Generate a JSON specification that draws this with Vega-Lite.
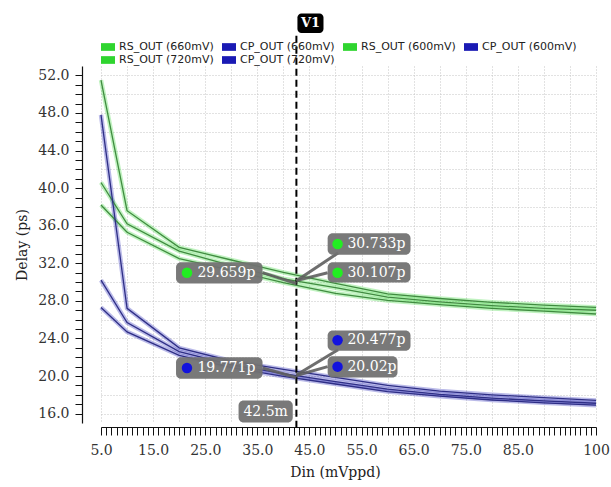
{
  "$schema": "https://vega.github.io/schema/vega-lite/v6.json",
  "width": 495,
  "height": 357,
  "autosize": {"type": "none"},
  "padding": {"left": 101, "top": 66, "right": 15, "bottom": 64},
  "background": "white",
  "config": {"view": {"stroke": null}},
  "datasets": {
    "lines": [
      {"s": "RS_OUT (600mV)", "x": 5, "y": 51.5}, {"s": "RS_OUT (600mV)", "x": 10, "y": 37.6}, {"s": "RS_OUT (600mV)", "x": 20, "y": 33.7}, {"s": "RS_OUT (600mV)", "x": 30, "y": 32.35}, {"s": "RS_OUT (600mV)", "x": 40, "y": 31.03}, {"s": "RS_OUT (600mV)", "x": 50, "y": 29.85}, {"s": "RS_OUT (600mV)", "x": 60, "y": 28.75}, {"s": "RS_OUT (600mV)", "x": 70, "y": 28.25}, {"s": "RS_OUT (600mV)", "x": 80, "y": 27.85}, {"s": "RS_OUT (600mV)", "x": 90, "y": 27.55}, {"s": "RS_OUT (600mV)", "x": 100, "y": 27.3},
      {"s": "RS_OUT (660mV)", "x": 5, "y": 40.6}, {"s": "RS_OUT (660mV)", "x": 10, "y": 36.2}, {"s": "RS_OUT (660mV)", "x": 20, "y": 33.3}, {"s": "RS_OUT (660mV)", "x": 30, "y": 31.75}, {"s": "RS_OUT (660mV)", "x": 40, "y": 30.35}, {"s": "RS_OUT (660mV)", "x": 50, "y": 29.4}, {"s": "RS_OUT (660mV)", "x": 60, "y": 28.4}, {"s": "RS_OUT (660mV)", "x": 70, "y": 27.9}, {"s": "RS_OUT (660mV)", "x": 80, "y": 27.5}, {"s": "RS_OUT (660mV)", "x": 90, "y": 27.2}, {"s": "RS_OUT (660mV)", "x": 100, "y": 27.0},
      {"s": "RS_OUT (720mV)", "x": 5, "y": 38.2}, {"s": "RS_OUT (720mV)", "x": 10, "y": 35.3}, {"s": "RS_OUT (720mV)", "x": 20, "y": 32.5}, {"s": "RS_OUT (720mV)", "x": 30, "y": 31.25}, {"s": "RS_OUT (720mV)", "x": 40, "y": 29.95}, {"s": "RS_OUT (720mV)", "x": 50, "y": 28.8}, {"s": "RS_OUT (720mV)", "x": 60, "y": 28.05}, {"s": "RS_OUT (720mV)", "x": 70, "y": 27.6}, {"s": "RS_OUT (720mV)", "x": 80, "y": 27.2}, {"s": "RS_OUT (720mV)", "x": 90, "y": 26.9}, {"s": "RS_OUT (720mV)", "x": 100, "y": 26.6},
      {"s": "CP_OUT (600mV)", "x": 5, "y": 47.8}, {"s": "CP_OUT (600mV)", "x": 10, "y": 27.2}, {"s": "CP_OUT (600mV)", "x": 20, "y": 23.0}, {"s": "CP_OUT (600mV)", "x": 30, "y": 21.6}, {"s": "CP_OUT (600mV)", "x": 40, "y": 20.7}, {"s": "CP_OUT (600mV)", "x": 50, "y": 19.85}, {"s": "CP_OUT (600mV)", "x": 60, "y": 19.0}, {"s": "CP_OUT (600mV)", "x": 70, "y": 18.4}, {"s": "CP_OUT (600mV)", "x": 80, "y": 18.0}, {"s": "CP_OUT (600mV)", "x": 90, "y": 17.7}, {"s": "CP_OUT (600mV)", "x": 100, "y": 17.4},
      {"s": "CP_OUT (660mV)", "x": 5, "y": 30.2}, {"s": "CP_OUT (660mV)", "x": 10, "y": 25.7}, {"s": "CP_OUT (660mV)", "x": 20, "y": 22.6}, {"s": "CP_OUT (660mV)", "x": 30, "y": 21.2}, {"s": "CP_OUT (660mV)", "x": 40, "y": 20.25}, {"s": "CP_OUT (660mV)", "x": 50, "y": 19.4}, {"s": "CP_OUT (660mV)", "x": 60, "y": 18.6}, {"s": "CP_OUT (660mV)", "x": 70, "y": 18.05}, {"s": "CP_OUT (660mV)", "x": 80, "y": 17.65}, {"s": "CP_OUT (660mV)", "x": 90, "y": 17.35}, {"s": "CP_OUT (660mV)", "x": 100, "y": 17.1},
      {"s": "CP_OUT (720mV)", "x": 5, "y": 27.3}, {"s": "CP_OUT (720mV)", "x": 10, "y": 24.7}, {"s": "CP_OUT (720mV)", "x": 20, "y": 22.2}, {"s": "CP_OUT (720mV)", "x": 30, "y": 20.9}, {"s": "CP_OUT (720mV)", "x": 40, "y": 19.97}, {"s": "CP_OUT (720mV)", "x": 50, "y": 19.15}, {"s": "CP_OUT (720mV)", "x": 60, "y": 18.35}, {"s": "CP_OUT (720mV)", "x": 70, "y": 17.85}, {"s": "CP_OUT (720mV)", "x": 80, "y": 17.45}, {"s": "CP_OUT (720mV)", "x": 90, "y": 17.15}, {"s": "CP_OUT (720mV)", "x": 100, "y": 16.9}
    ],
    "ann": [
      {"label": "30.733p", "fam": "RS", "x1": 48.5, "x2": 64.4, "y1": 32.9, "y2": 35.2, "cx": 50.4, "tx": 52.3, "ty": 34.05, "px": 42.5, "py": 30.15, "qx": 50.5, "qy": 33.1},
      {"label": "30.107p", "fam": "RS", "x1": 48.5, "x2": 64.4, "y1": 29.95, "y2": 32.1, "cx": 50.4, "tx": 52.3, "ty": 31.0, "px": 42.5, "py": 30.15, "qx": 48.5, "qy": 31.0},
      {"label": "29.659p", "fam": "RS", "x1": 19.4, "x2": 36.0, "y1": 29.85, "y2": 32.1, "cx": 21.5, "tx": 23.5, "ty": 31.0, "px": 42.5, "py": 29.85, "qx": 36.0, "qy": 31.0},
      {"label": "20.477p", "fam": "CP", "x1": 48.5, "x2": 64.4, "y1": 22.7, "y2": 24.85, "cx": 50.4, "tx": 52.3, "ty": 23.8, "px": 42.5, "py": 20.1, "qx": 50.5, "qy": 22.8},
      {"label": "20.02p", "fam": "CP", "x1": 48.5, "x2": 61.9, "y1": 19.85, "y2": 22.1, "cx": 50.4, "tx": 52.3, "ty": 21.0, "px": 42.5, "py": 20.05, "qx": 48.5, "qy": 21.0},
      {"label": "19.771p", "fam": "CP", "x1": 19.4, "x2": 36.0, "y1": 19.7, "y2": 22.0, "cx": 21.5, "tx": 23.5, "ty": 20.85, "px": 42.5, "py": 19.85, "qx": 36.0, "qy": 20.85}
    ]
  },
  "layer": [
    {
      "data": {"name": "lines"},
      "mark": {"type": "line", "strokeWidth": 4.5, "opacity": 0.3},
      "encoding": {
        "x": {"field": "x", "type": "quantitative", "scale": {"domain": [5, 100], "nice": false, "zero": false},
          "axis": {"orient": "bottom", "offset": 4, "tickCount": 1000,
            "values": [5,6,7,8,9,10,11,12,13,14,15,16,17,18,19,20,21,22,23,24,25,26,27,28,29,30,31,32,33,34,35,36,37,38,39,40,41,42,43,44,45,46,47,48,49,50,51,52,53,54,55,56,57,58,59,60,61,62,63,64,65,66,67,68,69,70,71,72,73,74,75,76,77,78,79,80,81,82,83,84,85,86,87,88,89,90,91,92,93,94,95,96,97,98,99,100],
            "grid": true, "gridColor": "#c4c4c4", "gridDash": [1, 2], "gridWidth": 1,
            "gridOpacity": {"condition": {"test": "datum.value % 5 === 0", "value": 1}, "value": 0},
            "domain": true, "domainColor": "#111111", "domainWidth": 1.2, "ticks": true, "tickSize": 8, "tickColor": "#111111", "tickWidth": 1,
            "labelExpr": "datum.value == 100 ? '100' : ((datum.value - 5) % 10 == 0 && datum.value <= 85 ? format(datum.value, '.1f') : '')",
            "labelFont": "DejaVu Serif", "labelFontSize": 14, "labelColor": "#333333", "labelPadding": 8, "labelFlush": false, "labelOverlap": false, "labelBound": false,
            "title": "Din (mVppd)", "titleFont": "DejaVu Serif", "titleFontSize": 14, "titleFontWeight": "normal", "titleColor": "#222222", "titlePadding": 8, "titleX": 234,
            "encode": {
              "ticks": {"update": {"y2": {"signal": "datum.value % 5 === 0 ? 8 : 4.5"}}}
            }}},
        "y": {"field": "y", "type": "quantitative", "scale": {"domain": [15, 53], "nice": false, "zero": false},
          "axis": {"orient": "left", "offset": 19, "tickCount": 1000,
            "values": [16,17,18,19,20,21,22,23,24,25,26,27,28,29,30,31,32,33,34,35,36,37,38,39,40,41,42,43,44,45,46,47,48,49,50,51,52],
            "labelExpr": "datum.value % 4 === 0 ? format(datum.value, '.1f') : ''",
            "grid": true, "gridColor": "#c4c4c4", "gridDash": [1, 2], "gridWidth": 1,
            "gridOpacity": {"condition": {"test": "datum.value % 2 === 0", "value": 1}, "value": 0},
            "domain": true, "domainColor": "#111111", "domainWidth": 1.2, "ticks": true, "tickSize": 7, "tickColor": "#111111", "tickWidth": 1,
            "labelFont": "DejaVu Serif", "labelFontSize": 14, "labelColor": "#333333", "labelPadding": 6, "labelOverlap": false,
            "title": "Delay (ps)", "titleFont": "DejaVu Serif", "titleFontSize": 14, "titleFontWeight": "normal", "titleColor": "#222222", "titlePadding": 8,
            "encode": {
              "ticks": {"update": {"x2": {"signal": "datum.value % 4 === 0 ? -7 : -3.5"}}}
            }}},
        "color": {"field": "s", "type": "nominal",
          "scale": {"domain": ["RS_OUT (660mV)", "CP_OUT (660mV)", "RS_OUT (600mV)", "CP_OUT (600mV)", "RS_OUT (720mV)", "CP_OUT (720mV)"],
                    "range": ["#2fd52f", "#1a1ab4", "#2fd52f", "#1a1ab4", "#2fd52f", "#1a1ab4"]},
          "legend": {"orient": "top", "title": null, "columns": 4, "symbolType": "M-1,-0.55H1V0.55H-1Z", "symbolSize": 196, "symbolOpacity": 1, "symbolStrokeWidth": 0,
            "labelFont": "DejaVu Sans", "labelFontSize": 11, "labelColor": "#222222", "columnPadding": 8, "rowPadding": 1, "offset": 1, "padding": 0, "labelOffset": 4,
            "encode": {"symbols": {"update": {"fill": {"scale": "color", "field": "value"}, "fillOpacity": {"value": 1}}}}}}
      }
    },
    {
      "data": {"name": "lines"},
      "mark": {"type": "line", "strokeWidth": 1.3},
      "encoding": {
        "x": {"field": "x", "type": "quantitative"},
        "y": {"field": "y", "type": "quantitative"},
        "stroke": {"field": "s", "type": "nominal", "legend": null,
          "scale": {"domain": ["RS_OUT (660mV)", "CP_OUT (660mV)", "RS_OUT (600mV)", "CP_OUT (600mV)", "RS_OUT (720mV)", "CP_OUT (720mV)"],
                    "range": ["#3f8c3f", "#2e2e86", "#3f8c3f", "#2e2e86", "#3f8c3f", "#2e2e86"]}}
      }
    },
    {
      "data": {"values": [{"x": 42.5, "y": 14.5, "y2": 56.5}]},
      "mark": {"type": "rule", "color": "#000000", "strokeWidth": 2, "strokeDash": [7, 4]},
      "encoding": {
        "x": {"field": "x", "type": "quantitative"},
        "y": {"field": "y", "type": "quantitative"},
        "y2": {"field": "y2"}
      }
    },
    {
      "data": {"name": "ann"},
      "mark": {"type": "rule", "color": "#5e5e5e", "strokeWidth": 3, "opacity": 0.9},
      "encoding": {
        "x": {"field": "px", "type": "quantitative"},
        "y": {"field": "py", "type": "quantitative"},
        "x2": {"field": "qx"},
        "y2": {"field": "qy"}
      }
    },
    {
      "data": {"name": "ann"},
      "mark": {"type": "rect", "color": "#727272", "cornerRadius": 5, "opacity": 0.95},
      "encoding": {
        "x": {"field": "x1", "type": "quantitative"},
        "x2": {"field": "x2"},
        "y": {"field": "y1", "type": "quantitative"},
        "y2": {"field": "y2"}
      }
    },
    {
      "data": {"name": "ann"},
      "mark": {"type": "point", "filled": true, "size": 110, "opacity": 1},
      "encoding": {
        "x": {"field": "cx", "type": "quantitative"},
        "y": {"field": "ty", "type": "quantitative"},
        "fill": {"field": "fam", "type": "nominal", "legend": null, "scale": {"domain": ["RS", "CP"], "range": ["#22ee22", "#1212dd"]}}
      }
    },
    {
      "data": {"name": "ann"},
      "mark": {"type": "text", "align": "left", "baseline": "middle", "font": "DejaVu Serif", "fontSize": 14, "color": "#ffffff"},
      "encoding": {
        "x": {"field": "tx", "type": "quantitative"},
        "y": {"field": "ty", "type": "quantitative"},
        "text": {"field": "label"}
      }
    },
    {
      "data": {"values": [{"x1": 42.7, "x2": 47.7, "y1": 56.5, "y2": 58.6, "tx": 45.2, "ty": 57.55, "label": "V1"}]},
      "layer": [
        {"mark": {"type": "rect", "color": "#000000", "cornerRadius": 4},
         "encoding": {"x": {"field": "x1", "type": "quantitative"}, "x2": {"field": "x2"}, "y": {"field": "y1", "type": "quantitative"}, "y2": {"field": "y2"}}},
        {"mark": {"type": "text", "align": "center", "baseline": "middle", "font": "DejaVu Serif", "fontSize": 13, "fontWeight": "bold", "color": "#ffffff"},
         "encoding": {"x": {"field": "tx", "type": "quantitative"}, "y": {"field": "ty", "type": "quantitative"}, "text": {"field": "label"}}}
      ]
    },
    {
      "data": {"values": [{"x1": 31.4, "x2": 41.8, "y1": 15.05, "y2": 17.4, "tx": 36.6, "ty": 16.2, "label": "42.5m"}]},
      "layer": [
        {"mark": {"type": "rect", "color": "#727272", "cornerRadius": 5, "opacity": 0.95},
         "encoding": {"x": {"field": "x1", "type": "quantitative"}, "x2": {"field": "x2"}, "y": {"field": "y1", "type": "quantitative"}, "y2": {"field": "y2"}}},
        {"mark": {"type": "text", "align": "center", "baseline": "middle", "font": "DejaVu Serif", "fontSize": 14, "color": "#ffffff"},
         "encoding": {"x": {"field": "tx", "type": "quantitative"}, "y": {"field": "ty", "type": "quantitative"}, "text": {"field": "label"}}}
      ]
    }
  ]
}
